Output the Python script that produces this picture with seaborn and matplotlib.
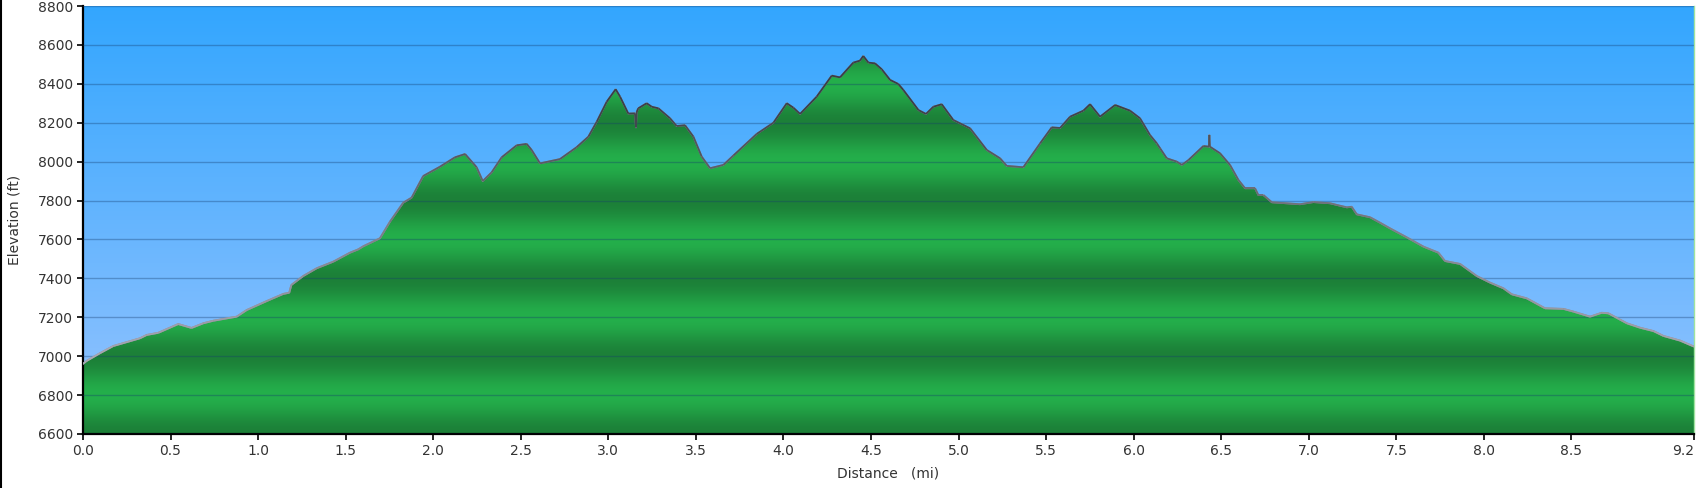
import numpy as np
import matplotlib
matplotlib.use("Agg")
import matplotlib.pyplot as plt
import seaborn as sns
from matplotlib.collections import LineCollection
from matplotlib.lines import Line2D

sns.set_theme(style='ticks')
plt.rcParams['font.family'] = ['DejaVu Sans']

# elevation profile
distance_mi = [
    0.000, 0.020, 0.097, 0.173, 0.326, 0.364, 0.430, 0.544, 0.620, 0.687,
    0.744, 0.878, 0.935, 1.049, 1.144, 1.178, 1.190, 1.258, 1.335, 1.430,
    1.525, 1.572, 1.601, 1.696, 1.753, 1.829, 1.877, 1.943, 2.039, 2.124,
    2.182, 2.248, 2.283, 2.334, 2.391, 2.477, 2.534, 2.562, 2.610, 2.724,
    2.819, 2.886, 2.934, 2.991, 3.042, 3.067, 3.114, 3.152, 3.158, 3.162,
    3.171, 3.219, 3.248, 3.286, 3.352, 3.390, 3.438, 3.486, 3.533, 3.581,
    3.657, 3.714, 3.847, 3.943, 4.019, 4.057, 4.095, 4.190, 4.276, 4.323,
    4.399, 4.437, 4.456, 4.485, 4.523, 4.561, 4.609, 4.656, 4.685, 4.771,
    4.814, 4.856, 4.904, 4.970, 5.066, 5.161, 5.237, 5.275, 5.370, 5.466,
    5.532, 5.580, 5.637, 5.713, 5.751, 5.808, 5.894, 5.979, 6.036, 6.093,
    6.132, 6.151, 6.189, 6.246, 6.275, 6.313, 6.398, 6.430, 6.432, 6.435,
    6.493, 6.550, 6.598, 6.636, 6.693, 6.712, 6.741, 6.789, 6.950, 7.026,
    7.121, 7.217, 7.245, 7.274, 7.350, 7.407, 7.464, 7.559, 7.655, 7.740,
    7.778, 7.864, 7.959, 8.035, 8.111, 8.159, 8.245, 8.349, 8.454, 8.511,
    8.606, 8.673, 8.711, 8.816, 8.892, 8.968, 9.025, 9.120, 9.200,
]
elevation_ft = [
    6960, 6975, 7015, 7052, 7092, 7109, 7120, 7165, 7145, 7169,
    7182, 7203, 7237, 7283, 7320, 7326, 7366, 7412, 7452, 7486,
    7532, 7549, 7565, 7606, 7691, 7789, 7815, 7926, 7974, 8022,
    8039, 7971, 7900, 7945, 8022, 8084, 8091, 8060, 7991, 8013,
    8074, 8128, 8205, 8308, 8372, 8334, 8247, 8248, 8176, 8255,
    8274, 8300, 8282, 8274, 8223, 8183, 8187, 8128, 8026, 7966,
    7983, 8031, 8142, 8200, 8300, 8277, 8245, 8334, 8442, 8433,
    8509, 8519, 8543, 8509, 8505, 8475, 8420, 8399, 8368, 8265,
    8245, 8282, 8295, 8214, 8171, 8060, 8017, 7978, 7971, 8094,
    8176, 8173, 8231, 8262, 8295, 8231, 8291, 8262, 8223, 8137,
    8094, 8068, 8017, 8000, 7983, 8008, 8080, 8077, 8137, 8077,
    8043, 7983, 7906, 7863, 7863, 7828, 7828, 7791, 7781, 7792,
    7786, 7765, 7768, 7729, 7714, 7686, 7657, 7611, 7563, 7532,
    7489, 7474, 7412, 7378, 7349, 7318, 7297, 7246, 7243, 7229,
    7203, 7223, 7220, 7169, 7146, 7129, 7104, 7080, 7049,
]

x_ticks = [0.0, 0.5, 1.0, 1.5, 2.0, 2.5, 3.0, 3.5, 4.0, 4.5,
           5.0, 5.5, 6.0, 6.5, 7.0, 7.5, 8.0, 8.5, 9.2]
y_ticks = [6600, 6800, 7000, 7200, 7400, 7600, 7800, 8000, 8200, 8400, 8600, 8800]

x_max = 9.2
y_min, y_max = 6600, 8800

fig = plt.figure(figsize=(17, 4.88), dpi=100)
ax = fig.add_axes([0.0488, 0.1107, 0.9477, 0.877])

# sky gradient
sky = sns.blend_palette(['#97c4ff', '#33a6fe'], n_colors=256)
sky_img = np.array(sky)[:, None, :]
ax.imshow(sky_img, extent=[0, x_max, y_min, y_max], origin='lower',
          aspect='auto', zorder=0, interpolation='bicubic')

# banded green fill under the profile
levels = np.linspace(y_min, y_max, 1100)
t = 0.5 + 0.5 * np.cos(2 * np.pi * (levels - y_min) / 400.0)
light = np.array(matplotlib.colors.to_rgb('#24af4b'))
dark = np.array(matplotlib.colors.to_rgb('#1c8038'))
green_img = (light[None, :] * (1 - t[:, None]) + dark[None, :] * t[:, None])[:, None, :]
fill = ax.fill_between(distance_mi, elevation_ft, y_min, facecolor='none',
                       edgecolor='none', zorder=1)
im = ax.imshow(green_img, extent=[0, x_max, y_min, y_max], origin='lower',
               aspect='auto', zorder=1, interpolation='bilinear')
im.set_clip_path(fill.get_paths()[0], transform=ax.transData)

# outline, darker on the high ground
sns.lineplot(x=distance_mi, y=elevation_ft, ax=ax, color='#8a8c96', lw=1.3,
             sort=False, zorder=3)
pts = np.column_stack([distance_mi, elevation_ft])
segs = np.stack([pts[:-1], pts[1:]], axis=1)
line_cmap = sns.blend_palette(['#a8a8b2', '#7c7f8a', '#3a3f48'], as_cmap=True)
mid = (np.array(elevation_ft[:-1]) + np.array(elevation_ft[1:])) / 2
lc = LineCollection(segs, cmap=line_cmap, norm=plt.Normalize(7000, 8300),
                    linewidths=1.3, zorder=3.1)
lc.set_array(mid)
ax.add_collection(lc)

ax.set_xlim(0, x_max)
ax.set_ylim(y_min, y_max)
ax.set_xticks(x_ticks)
ax.set_xticklabels([f'{v:.1f}' for v in x_ticks])
ax.get_xticklabels()[-1].set_horizontalalignment('right')
ax.set_yticks(y_ticks)
ax.set_yticklabels([str(v) for v in y_ticks])

ax.set_axisbelow(False)
ax.yaxis.grid(True, color='#143c6e', alpha=0.35, lw=1.0)
ax.xaxis.grid(False)

ax.tick_params(direction='out', length=4, width=1.2, color='black',
               labelcolor='#333333', labelsize=10, pad=3)
for side in ['left', 'bottom']:
    ax.spines[side].set_color('black')
    ax.spines[side].set_linewidth(1.6)
ax.spines['top'].set_visible(False)
ax.spines['right'].set_color('#9fe39f')
ax.spines['right'].set_linewidth(1.0)

ax.set_xlabel('Distance   (mi)', fontsize=10, color='#333333')
ax.set_ylabel('Elevation (ft)', fontsize=10, color='#333333')
ax.xaxis.set_label_coords(0.5, -0.075)
ax.yaxis.set_label_coords(-0.038, 0.5)

fig.add_artist(Line2D([0.0006, 0.0006], [0, 1], color='black', lw=1.5,
                      transform=fig.transFigure))

fig.savefig('out.png', dpi=100, facecolor='white')
